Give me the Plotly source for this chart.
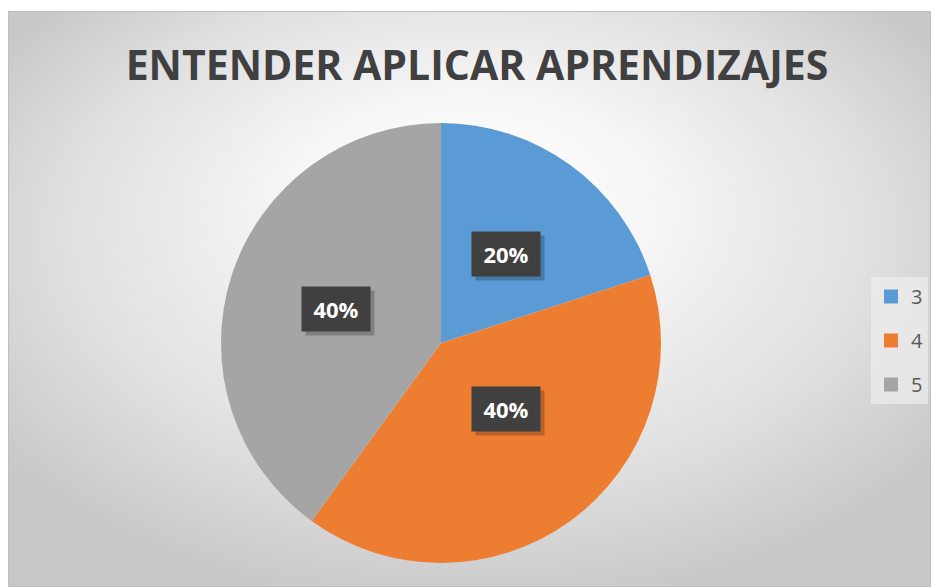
import base64
import math
import plotly.graph_objects as go

# ---- data ----
labels = ["3", "4", "5"]
values = [20, 40, 40]
colors = ["#5B9BD5", "#ED7D31", "#A5A5A5"]
title_text = "ENTENDER APLICAR APRENDIZAJES"

W, H = 931, 587


def px2x(px):
    return px / W


def py2y(py):
    return 1 - py / H


# pie geometry (reference pixels)
pcx, pcy, pr = 441, 343, 220
dom_x = [px2x(pcx - pr), px2x(pcx + pr)]
dom_y = [py2y(pcy + pr), py2y(pcy - pr)]

# background radial gradient as svg
svg = '''<svg xmlns="http://www.w3.org/2000/svg" width="923" height="576" viewBox="0 0 923 576" preserveAspectRatio="none">
<defs><radialGradient id="g" cx="0.5" cy="0.42" r="0.62" fx="0.5" fy="0.3">
<stop offset="0" stop-color="#FFFFFF"/>
<stop offset="0.3" stop-color="#F7F7F7"/>
<stop offset="0.7" stop-color="#E0E0E0"/>
<stop offset="1" stop-color="#C8C8C8"/>
</radialGradient></defs>
<rect x="0" y="0" width="923" height="576" fill="url(#g)"/>
<rect x="0.5" y="0.5" width="922" height="575" fill="none" stroke="#BFBFBF" stroke-width="1"/>
</svg>'''
src = "data:image/svg+xml;base64," + base64.b64encode(svg.encode()).decode()

fig = go.Figure()
fig.add_trace(go.Pie(
    labels=labels, values=values,
    marker=dict(colors=colors, line=dict(width=0)),
    sort=False, direction="clockwise", rotation=0,
    textinfo="none", hoverinfo="label+percent",
    domain=dict(x=dom_x, y=dom_y),
    showlegend=False,
))

# legend entries (square markers) with group gaps to mimic spacing
for i, (lab, col) in enumerate(zip(labels, colors)):
    fig.add_trace(go.Scatter(
        x=[None], y=[None], mode="markers", name=lab,
        marker=dict(symbol="square", size=14, color=col),
        legendgroup=f"g{i}", showlegend=True, hoverinfo="skip",
    ))

# data labels as boxed annotations at half radius of each slice's mid-angle
total = sum(values)
cum = 0
for v in values:
    mid = (cum + v / 2) / total * 2 * math.pi
    cum += v
    lx = pcx + 0.5 * pr * math.sin(mid)
    ly = pcy - 0.5 * pr * math.cos(mid)
    txt = f"{round(v / total * 100)}%"
    # shadow box
    fig.add_annotation(x=px2x(lx), y=py2y(ly), xref="paper", yref="paper",
                       text=" ", showarrow=False, xshift=4, yshift=-4,
                       width=52, height=28,
                       font=dict(family="Open Sans", size=22, color="rgba(0,0,0,0)"),
                       bgcolor="rgba(0,0,0,0.22)", borderpad=8)
    fig.add_annotation(x=px2x(lx), y=py2y(ly), xref="paper", yref="paper",
                       text=f"<b>{txt}</b>", showarrow=False,
                       width=52, height=28,
                       font=dict(family="Open Sans", size=22, color="#FFFFFF"),
                       bgcolor="#404040", borderpad=8)

fig.update_layout(
    width=W, height=H,
    margin=dict(l=0, r=0, t=0, b=0),
    paper_bgcolor="#FFFFFF",
    plot_bgcolor="rgba(0,0,0,0)",
    xaxis=dict(visible=False),
    yaxis=dict(visible=False),
    title=dict(text=f"<b>{title_text}</b>", x=px2x(477), xanchor="center",
               y=py2y(66), yanchor="middle",
               font=dict(family="Open Sans", size=41, color="#404040")),
    showlegend=True,
    legend=dict(x=px2x(871), y=py2y(277), xanchor="left", yanchor="top",
                bgcolor="rgba(242,242,242,0.6)", borderwidth=0,
                font=dict(family="Open Sans", size=20, color="#595959"),
                itemsizing="trace", itemwidth=30,
                traceorder="grouped", tracegroupgap=15),
    images=[dict(source=src, xref="paper", yref="paper",
                 x=px2x(8), y=py2y(11), sizex=(W - 8) / W, sizey=(H - 11) / H,
                 xanchor="left", yanchor="top", sizing="stretch", layer="below")],
)

fig.write_html(
    "out.html",
    config={"displayModeBar": False},
    post_script="document.body.style.margin='0';document.body.style.overflow='hidden';",
)
